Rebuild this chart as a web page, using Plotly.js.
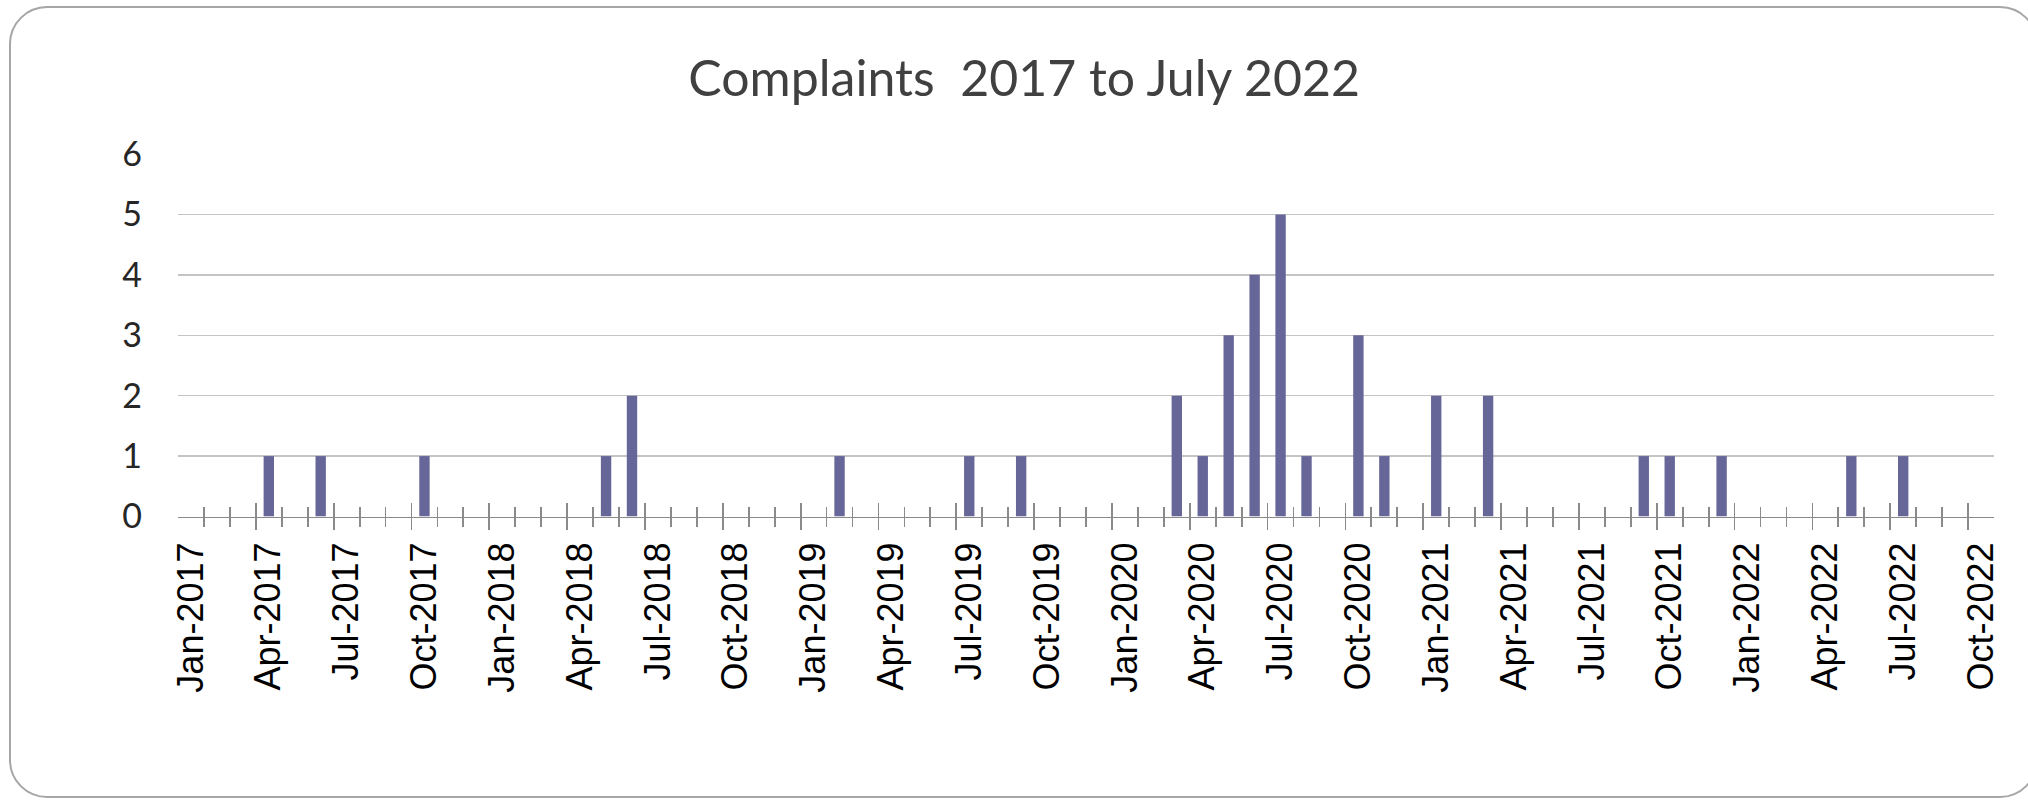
<!DOCTYPE html>
<html>
<head>
<meta charset="utf-8">
<script src="https://cdn.plot.ly/plotly-3.0.1.min.js"></script>
<style>
  html, body { margin: 0; padding: 0; background: #ffffff; overflow: hidden; }
  #frame {
    position: absolute; left: 9px; top: 6px; width: 2029px; height: 792px;
    box-sizing: border-box; border: 2px solid #a6a6a6; border-radius: 38px;
  }
  #chart { position: absolute; left: 0; top: 0; width: 2028px; height: 800px; }
</style>
</head>
<body>
<div id="frame"></div>
<div id="chart"></div>
<script>
// Month categories (Excel-style date axis, one slot per month)
const months = [
  "Jan-2017","Feb-2017","Mar-2017","Apr-2017","May-2017","Jun-2017","Jul-2017","Aug-2017","Sep-2017","Oct-2017","Nov-2017","Dec-2017",
  "Jan-2018","Feb-2018","Mar-2018","Apr-2018","May-2018","Jun-2018","Jul-2018","Aug-2018","Sep-2018","Oct-2018","Nov-2018","Dec-2018",
  "Jan-2019","Feb-2019","Mar-2019","Apr-2019","May-2019","Jun-2019","Jul-2019","Aug-2019","Sep-2019","Oct-2019","Nov-2019","Dec-2019",
  "Jan-2020","Feb-2020","Mar-2020","Apr-2020","May-2020","Jun-2020","Jul-2020","Aug-2020","Sep-2020","Oct-2020","Nov-2020","Dec-2020",
  "Jan-2021","Feb-2021","Mar-2021","Apr-2021","May-2021","Jun-2021","Jul-2021","Aug-2021","Sep-2021","Oct-2021","Nov-2021","Dec-2021",
  "Jan-2022","Feb-2022","Mar-2022","Apr-2022","May-2022","Jun-2022","Jul-2022","Aug-2022","Sep-2022","Oct-2022"
];

// Complaints per month
const complaints2017 = [0,0,0,1,0,1,0,0,0,1,0,0];
const complaints2018 = [0,0,0,0,1,2,0,0,0,0,0,0];
const complaints2019 = [0,1,0,0,0,0,1,0,1,0,0,0];
const complaints2020 = [0,0,2,1,3,4,5,1,0,3,1,0];
const complaints2021 = [2,0,2,0,0,0,0,0,1,1,0,1];
const complaints2022 = [0,0,0,0,1,0,1,null,null,null];

const complaints = [].concat(complaints2017, complaints2018, complaints2019,
                             complaints2020, complaints2021, complaints2022);

const chartTitle = "Complaints  2017 to July 2022";

const axisGrey = "#8a8a8a";

const trace = {
  type: "bar",
  x: months,
  y: complaints,
  marker: { color: "#666699", line: { width: 0 } },
  hoverinfo: "x+y"
};

// empty helper traces so the tick-mark axes get drawn
const tickHolder = (ax) => ({
  type: "scatter", mode: "markers", x: [], y: [],
  xaxis: ax, yaxis: "y", showlegend: false, hoverinfo: "skip"
});

// plot area: top 154 px, bottom 530 px; x axis line sits 13.5 px above the bottom
const plotTop = 154, plotBottom = 530.2, H = plotBottom - plotTop;
const majorHalf = 13.5, minorHalf = 10;

// ticks crossing the axis line: drawn "inside" from a base just below the axis
const tickAxis = (step, half) => ({
  overlaying: "x",
  anchor: "free",
  position: (majorHalf - half) / H,
  side: "bottom",
  type: "linear",
  autorange: false,
  range: [-0.5, months.length - 0.5],
  tickmode: "linear",
  tick0: -0.5,
  dtick: step,
  ticks: "inside",
  ticklen: 2 * half,
  tickwidth: 1.8,
  tickcolor: axisGrey,
  showticklabels: false,
  showgrid: false,
  zeroline: false,
  showline: false,
  fixedrange: true
});

const layout = {
  width: 2028,
  height: 800,
  margin: { l: 178, r: 34, t: plotTop, b: 800 - plotBottom, pad: 0 },
  paper_bgcolor: "rgba(0,0,0,0)",
  plot_bgcolor: "rgba(0,0,0,0)",
  showlegend: false,
  bargap: 0.6,
  title: {
    text: chartTitle,
    x: 0.505, xref: "container", xanchor: "center",
    y: 1 - 78 / 800, yref: "container", yanchor: "middle",
    font: { family: "Lato, 'Open Sans', sans-serif", size: 50, color: "#404040" }
  },
  xaxis: {
    type: "category",
    categoryorder: "array",
    categoryarray: months,
    range: [-0.5, months.length - 0.5],
    tickmode: "linear",
    tick0: 0,
    dtick: 3,
    tickangle: -90,
    ticks: "",
    ticklabelstandoff: 10,
    showline: true,
    linecolor: axisGrey,
    linewidth: 1.6,
    showgrid: false,
    zeroline: false,
    tickfont: { family: "'Liberation Sans', Arial, sans-serif", size: 36, color: "#000000" }
  },
  xaxis2: tickAxis(3, majorHalf),
  xaxis3: tickAxis(1, minorHalf),
  yaxis: {
    domain: [majorHalf / H, 1],
    range: [0, 6],
    tickmode: "linear",
    tick0: 0,
    dtick: 1,
    ticks: "",
    ticklabelstandoff: 35,
    showgrid: true,
    gridcolor: "#c4c4c4",
    gridwidth: 1.4,
    zeroline: false,
    showline: false,
    tickfont: { family: "Lato, 'Open Sans', sans-serif", size: 34, color: "#262626" }
  }
};

Plotly.newPlot("chart", [trace, tickHolder("x2"), tickHolder("x3")], layout,
               { displayModeBar: false, staticPlot: true });
</script>
</body>
</html>
